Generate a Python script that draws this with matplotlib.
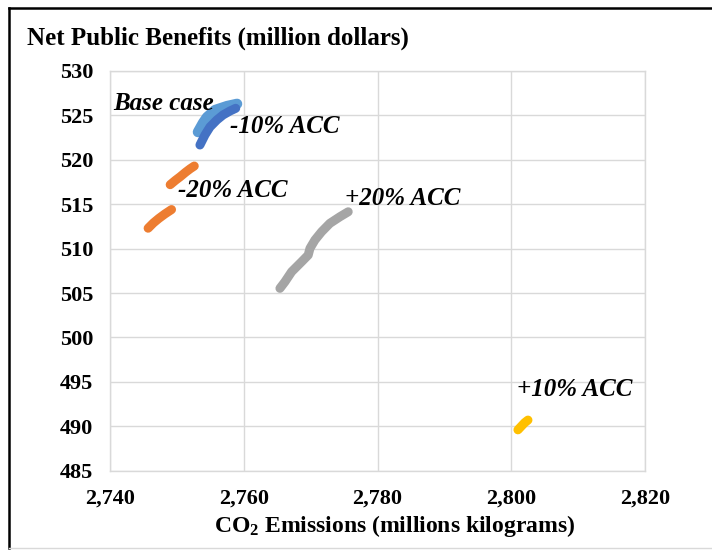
import numpy as np
import matplotlib
matplotlib.use("Agg")
import matplotlib.pyplot as plt
from matplotlib.lines import Line2D

plt.rcParams['font.family'] = ['Liberation Serif', 'DejaVu Serif']
plt.rcParams['mathtext.fontset'] = 'custom'
plt.rcParams['mathtext.rm'] = 'Liberation Serif:bold'
plt.rcParams['mathtext.it'] = 'Liberation Serif:bold'
plt.rcParams['mathtext.bf'] = 'Liberation Serif:bold'

# ---- data ----
base_x = [2753.15, 2753.9, 2754.5, 2755.7, 2757.5, 2759.0]
base_y = [523.13, 524.14, 524.8, 525.6, 526.05, 526.3]

m10_x = [2753.45, 2754.2, 2754.95, 2756.0, 2756.9, 2757.95, 2758.8]
m10_y = [521.67, 522.8, 523.7, 524.5, 525.05, 525.5, 525.8]

m20_x = [2745.7, 2746.5, 2747.3, 2748.2, 2749.2, np.nan,
         2749.0, 2749.8, 2750.5, 2751.3, 2752.0, 2752.6]
m20_y = [512.3, 512.9, 513.4, 513.9, 514.4, np.nan,
         517.2, 517.7, 518.1, 518.6, 519.0, 519.3]

p20_x = [2765.41, 2766.16, 2767.16, 2768.65, 2769.64, 2769.9,
         2770.64, 2771.64, 2772.88, 2774.38, 2775.62]
p20_y = [505.53, 506.27, 507.40, 508.52, 509.28, 510.03,
         510.97, 511.9, 512.85, 513.59, 514.15]

p10_x = [2801.0, 2801.5, 2802.0, 2802.5]
p10_y = [489.6, 490.0, 490.4, 490.7]

x_ticks = [2740, 2760, 2780, 2800, 2820]
x_tick_labels = ['2,740', '2,760', '2,780', '2,800', '2,820']
y_ticks = [485, 490, 495, 500, 505, 510, 515, 520, 525, 530]

labels = ['Base case', '-10% ACC', '-20% ACC', '+20% ACC', '+10% ACC']
label_x = [2740.45, 2757.9, 2750.2, 2775.1, 2800.8]
label_y = [526.3, 523.8, 516.5, 515.6, 494.1]

# ---- figure ----
W, H = 712, 550
fig = plt.figure(figsize=(W / 100, H / 100), dpi=100)
ax = fig.add_axes([110 / W, 1 - 470.7 / H, (645 - 110) / W, (470.7 - 71) / H])

grid_c = '#D9D9D9'
lw = 6.5
series = [
    (base_x, base_y, '#5B9BD5', 7.5),
    (m10_x, m10_y, '#4472C4', lw),
    (m20_x, m20_y, '#ED7D31', lw),
    (p20_x, p20_y, '#A5A5A5', lw),
    (p10_x, p10_y, '#FFC000', lw),
]
for xs, ys, c, w in series:
    ax.plot(xs, ys, color=c, lw=w, solid_capstyle='round',
            solid_joinstyle='round', zorder=3)

ax.set_xlim(2740, 2820)
ax.set_ylim(485, 530)
ax.set_xticks(x_ticks)
ax.set_xticklabels(x_tick_labels)
ax.set_yticks(y_ticks)
ax.grid(True, color=grid_c, lw=1.0)
ax.set_axisbelow(True)
for s in ax.spines.values():
    s.set_color(grid_c)
    s.set_linewidth(1.0)
ax.tick_params(length=0, labelsize=16)
for t in ax.get_xticklabels() + ax.get_yticklabels():
    t.set_fontweight('bold')
ax.tick_params(axis='x', pad=13)
ax.tick_params(axis='y', pad=12)

for txt, lx, ly in zip(labels, label_x, label_y):
    ax.text(lx, ly, txt, fontsize=18, fontweight='bold', fontstyle='italic',
            ha='left', va='center', zorder=4)

fig.text(27 / W, 1 - 38 / H, 'Net Public Benefits (million dollars)',
         fontsize=18, fontweight='bold', ha='left', va='center')
fig.text(395 / W, 1 - 526 / H, 'CO$_2$ Emissions (millions kilograms)',
         fontsize=17, fontweight='bold', ha='center', va='center')

# chart frame
fig.add_artist(Line2D([9 / W, 1.0], [1 - 8 / H, 1 - 8 / H], color='black', lw=1.8))
fig.add_artist(Line2D([9 / W, 9 / W], [1 - 8 / H, 1 - 548 / H], color='black', lw=1.8))
fig.add_artist(Line2D([9 / W, 1.0], [1 - 548 / H, 1 - 548 / H], color='#D9D9D9', lw=1.0))

fig.savefig('out.png', dpi=100)
